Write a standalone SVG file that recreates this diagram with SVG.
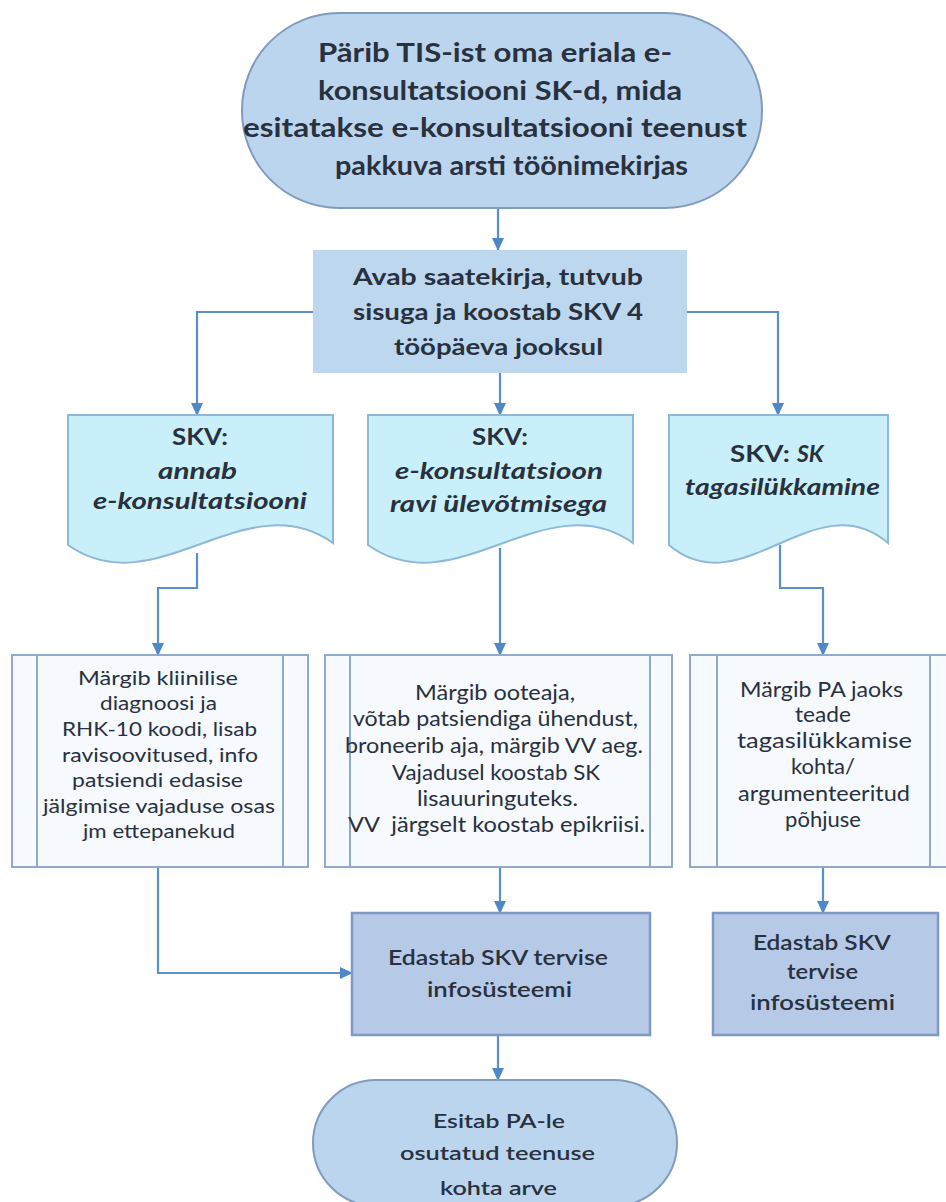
<svg xmlns="http://www.w3.org/2000/svg" width="946" height="1202" viewBox="0 0 946 1202">
<defs>
<marker id="ah" markerWidth="14" markerHeight="12" refX="12" refY="6" orient="auto" markerUnits="userSpaceOnUse">
<path d="M0,0 L13,6 L0,12 Z" fill="#4f88c8"/>
</marker>
<style>
.t{font-family:Lato,"Open Sans","Liberation Sans",sans-serif;fill:#28313d}
.term{fill:#bcd5ee;stroke:#7f9cbf;stroke-width:2}
.box{fill:#bdd7ee}
.doc{fill:#c9f0fa;stroke:#8db8d8;stroke-width:2}
.proc{fill:#f6f9fd;stroke:#8eabcd;stroke-width:2}
.ed{fill:#b6c9e7;stroke:#7f99c4;stroke-width:2.5}
.c{fill:none;stroke:#5b8fcb;stroke-width:2.2;marker-end:url(#ah)}
.b{font-weight:bold}
.i{font-style:italic;font-weight:bold}
.s{font-weight:600}
.m{text-anchor:middle}
</style>
</defs>
<rect width="946" height="1202" fill="#ffffff"/>

<g id="connectors">
<path class="c" d="M498,208 V250"/>
<path class="c" d="M313,312 H197 V415"/>
<path class="c" d="M500,373 V415"/>
<path class="c" d="M687,312 H778 V415"/>
<path class="c" d="M197,553 V588 H158 V655"/>
<path class="c" d="M500,548 V655"/>
<path class="c" d="M780,545 V588 H823 V655"/>
<path class="c" d="M158,867 V973 H352"/>
<path class="c" d="M500,867 V913"/>
<path class="c" d="M823,867 V913"/>
<path class="c" d="M498,1035 V1080"/>
</g>

<g id="start">
<rect class="term" x="242" y="13" width="520" height="195" rx="97" ry="97"/>
<text class="t b" font-size="27">
<tspan x="318" y="62" textLength="354" lengthAdjust="spacingAndGlyphs">Pärib TIS-ist oma eriala e-</tspan>
<tspan x="318" y="100" textLength="364" lengthAdjust="spacingAndGlyphs">konsultatsiooni SK-d, mida</tspan>
<tspan x="243" y="137" textLength="504" lengthAdjust="spacingAndGlyphs">esitatakse e-konsultatsiooni teenust</tspan>
<tspan x="335" y="175" textLength="353" lengthAdjust="spacingAndGlyphs">pakkuva arsti töönimekirjas</tspan>
</text>
</g>

<g id="avab">
<rect class="box" x="313" y="250" width="374" height="123"/>
<text class="t b" font-size="23">
<tspan x="353" y="285" textLength="290" lengthAdjust="spacingAndGlyphs">Avab saatekirja, tutvub</tspan>
<tspan x="353" y="320" textLength="290" lengthAdjust="spacingAndGlyphs">sisuga ja koostab SKV 4</tspan>
<tspan x="394" y="355" textLength="209" lengthAdjust="spacingAndGlyphs">tööpäeva jooksul</tspan>
</text>
</g>

<g id="doc1">
<path class="doc" d="M68,415 H333 V543 C245,481 156,607 68,545 Z"/>
<text class="t" font-size="23">
<tspan class="b" x="172" y="445" textLength="56" lengthAdjust="spacingAndGlyphs">SKV:</tspan>
<tspan class="i" x="158" y="479" textLength="79" lengthAdjust="spacingAndGlyphs">annab</tspan>
<tspan class="i" x="93" y="509" textLength="214" lengthAdjust="spacingAndGlyphs">e-konsultatsiooni</tspan>
</text>
</g>

<g id="doc2">
<path class="doc" d="M368,415 H633 V543 C545,481 456,607 368,545 Z"/>
<text class="t" font-size="23">
<tspan class="b" x="472" y="445" textLength="56" lengthAdjust="spacingAndGlyphs">SKV:</tspan>
<tspan class="i" x="395" y="479" textLength="208" lengthAdjust="spacingAndGlyphs">e-konsultatsioon</tspan>
<tspan class="i" x="390" y="512" textLength="217" lengthAdjust="spacingAndGlyphs">ravi ülevõtmisega</tspan>
</text>
</g>

<g id="doc3">
<path class="doc" d="M669,415 H888 V543 C815,481 742,607 669,545 Z"/>
<text class="t" font-size="23">
<tspan class="b" x="730" y="462" textLength="60" lengthAdjust="spacingAndGlyphs">SKV:</tspan>
<tspan class="i" x="797" y="462">SK</tspan>
<tspan class="i" x="685" y="495" textLength="195" lengthAdjust="spacingAndGlyphs">tagasilükkamine</tspan>
</text>
</g>

<g id="proc1">
<rect class="proc" x="12" y="655" width="296" height="212"/>
<path class="proc" d="M37,655 V867 M283,655 V867"/>
<text class="t" font-size="19.5">
<tspan x="78" y="685" textLength="160" lengthAdjust="spacingAndGlyphs">Märgib kliinilise</tspan>
<tspan x="100" y="710" textLength="117" lengthAdjust="spacingAndGlyphs">diagnoosi ja</tspan>
<tspan x="62" y="736" textLength="195" lengthAdjust="spacingAndGlyphs">RHK-10 koodi, lisab</tspan>
<tspan x="62" y="762" textLength="196" lengthAdjust="spacingAndGlyphs">ravisoovitused, info</tspan>
<tspan x="72" y="787" textLength="171" lengthAdjust="spacingAndGlyphs">patsiendi edasise</tspan>
<tspan x="43" y="813" textLength="232" lengthAdjust="spacingAndGlyphs">jälgimise vajaduse osas</tspan>
<tspan x="83" y="838" textLength="152" lengthAdjust="spacingAndGlyphs">jm ettepanekud</tspan>
</text>
</g>

<g id="proc2">
<rect class="proc" x="325" y="655" width="347" height="212"/>
<path class="proc" d="M350,655 V867 M650,655 V867"/>
<text class="t" font-size="21.5">
<tspan x="415" y="700" textLength="160" lengthAdjust="spacingAndGlyphs">Märgib ooteaja,</tspan>
<tspan x="353" y="726" textLength="285" lengthAdjust="spacingAndGlyphs">võtab patsiendiga ühendust,</tspan>
<tspan x="345" y="753" textLength="298" lengthAdjust="spacingAndGlyphs">broneerib aja, märgib VV aeg.</tspan>
<tspan x="392" y="780" textLength="208" lengthAdjust="spacingAndGlyphs">Vajadusel koostab SK</tspan>
<tspan x="417" y="806" textLength="161" lengthAdjust="spacingAndGlyphs">lisauuringuteks.</tspan>
<tspan x="348" y="832" textLength="297" lengthAdjust="spacingAndGlyphs" xml:space="preserve">VV  järgselt koostab epikriisi.</tspan>
</text>
</g>

<g id="proc3">
<rect class="proc" x="690" y="655" width="266" height="212"/>
<path class="proc" d="M717,655 V867 M930,655 V867"/>
<text class="t" font-size="21.5">
<tspan x="740" y="697" textLength="163" lengthAdjust="spacingAndGlyphs">Märgib PA jaoks</tspan>
<tspan x="795" y="722" textLength="56" lengthAdjust="spacingAndGlyphs">teade</tspan>
<tspan x="737" y="748" textLength="175" lengthAdjust="spacingAndGlyphs">tagasilükkamise</tspan>
<tspan x="738" y="801" textLength="172" lengthAdjust="spacingAndGlyphs">argumenteeritud</tspan>
</text>
<text class="t m" font-size="22" x="823" y="774">kohta/</text>
<text class="t m" font-size="22" x="823" y="827">põhjuse</text>
</g>

<g id="edastab1">
<rect class="ed" x="352" y="913" width="298" height="122"/>
<text class="t s" font-size="21">
<tspan x="388" y="965" textLength="220" lengthAdjust="spacingAndGlyphs">Edastab SKV tervise</tspan>
<tspan x="427" y="997" textLength="145" lengthAdjust="spacingAndGlyphs">infosüsteemi</tspan>
</text>
</g>

<g id="edastab2">
<rect class="ed" x="713" y="913" width="225" height="122"/>
<text class="t s" font-size="21">
<tspan x="753" y="950" textLength="137" lengthAdjust="spacingAndGlyphs">Edastab SKV</tspan>
<tspan x="787" y="979" textLength="71" lengthAdjust="spacingAndGlyphs">tervise</tspan>
<tspan x="750" y="1010" textLength="145" lengthAdjust="spacingAndGlyphs">infosüsteemi</tspan>
</text>
</g>

<g id="end">
<rect class="term" x="313" y="1080" width="364" height="126" rx="63" ry="63"/>
<text class="t s" font-size="19.5">
<tspan x="433" y="1128" textLength="132" lengthAdjust="spacingAndGlyphs">Esitab PA-le</tspan>
<tspan x="400" y="1160" textLength="195" lengthAdjust="spacingAndGlyphs">osutatud teenuse</tspan>
<tspan x="440" y="1195" textLength="117" lengthAdjust="spacingAndGlyphs">kohta arve</tspan>
</text>
</g>
</svg>
